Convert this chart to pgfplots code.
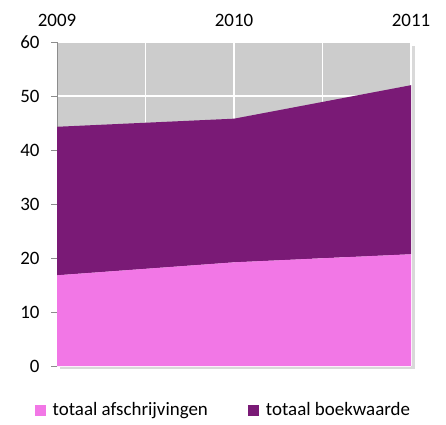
\documentclass[border=0pt]{standalone}
\usepackage{pgfplots}
\pgfplotsset{compat=1.18}
\usepackage{fontspec}
\setmainfont{Carlito}
\definecolor{pinkA}{HTML}{F277E6}
\definecolor{purpB}{HTML}{7A1A76}
\definecolor{bgG}{HTML}{CCCCCC}
\begin{document}
\begin{tikzpicture}[x=1bp,y=1bp]
\path (0,0) rectangle (446,424);
\fill[black!15] (411,55) rectangle (415,378);
\fill[black!15] (60,55) rectangle (415,58);
\begin{axis}[
  at={(57bp,58bp)}, anchor=south west,
  scale only axis, width=354bp, height=324bp,
  xmin=2009, xmax=2011, ymin=0, ymax=60,
  axis background/.style={fill=bgG},
  axis y line*=left, axis x line*=top,
  axis line style={-},
  x axis line style={draw=none},
  y axis line style={draw=black!45},
  xtick={2009,2010,2011},
  xticklabels={2009,2010,2011},
  minor xtick={2009.5,2010.5},
  xtick style={draw=none},
  ytick={0,10,20,30,40,50,60},
  ytick style={draw=black!45},
  tick align=outside, major tick length=6bp,
  grid=both,
  major grid style={white, line width=1.6bp},
  minor grid style={white, line width=1.6bp},
  stack plots=y,
  tick label style={font=\fontsize{19}{22}\selectfont},
  /pgf/number format/assume math mode=true,
  /pgf/number format/1000 sep={},
  xticklabel style={yshift=6bp},
  yticklabel style={xshift=-8bp},
  legend columns=2,
  legend style={draw=none, fill=none, at={(0.47,-0.136)}, anchor=center,
    font=\fontsize{19}{22}\selectfont,
    /tikz/every odd column/.append style={column sep=5bp},
    /tikz/every even column/.append style={column sep=38bp}},
  legend image code/.code={\fill[#1] (0bp,-5.5bp) rectangle (11bp,5.5bp);},
]
\addplot[draw=none, fill=pinkA] coordinates {(2009,16.8) (2010,19.2) (2011,20.7)} \closedcycle;
\addlegendentry{totaal afschrijvingen}
\addplot[draw=none, fill=purpB] coordinates {(2009,27.5) (2010,26.6) (2011,31.3)} \closedcycle;
\addlegendentry{totaal boekwaarde}
\end{axis}
\end{tikzpicture}
\end{document}
